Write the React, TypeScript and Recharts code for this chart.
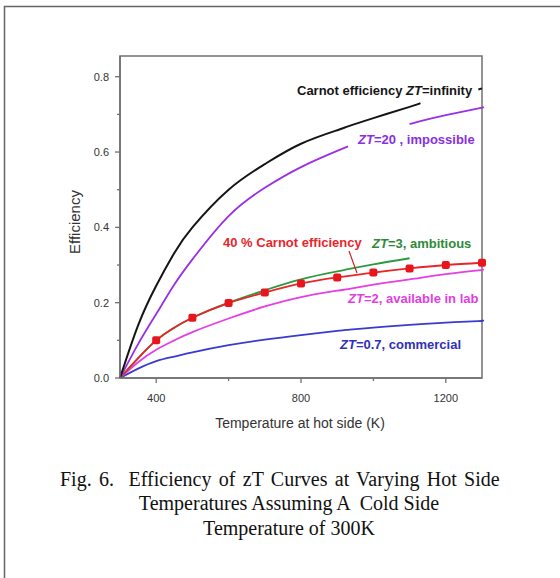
import React from 'react';
import { LineChart, Line, XAxis, YAxis, ReferenceArea } from 'recharts';

const temps = [300, 350, 400, 450, 500, 600, 700, 800, 900, 930, 1000, 1100, 1130, 1200, 1290, 1300];
const carnot = [0, 0.14, 0.245, 0.332, 0.4, 0.5, 0.568, 0.622, 0.658, 0.668, 0.69, 0.72, 0.73, null, 0.766, 0.769];
const zt20 = [0, 0.09, 0.17, 0.248, 0.315, 0.43, 0.505, 0.56, 0.603, 0.615, null, 0.674, 0.682, 0.698, 0.716, 0.718];
const zt3 = [0, 0.052, 0.1, 0.133, 0.16, 0.2, 0.233, 0.262, 0.283, 0.289, 0.302, 0.318, null, null, null, null];
const carnot40 = [0, null, 0.1, null, 0.16, 0.199, 0.227, 0.251, 0.267, null, 0.28, 0.291, null, 0.3, null, 0.306];
const zt2 = [0, 0.042, 0.075, 0.1, 0.122, 0.158, 0.19, 0.215, 0.232, 0.236, 0.248, 0.262, 0.266, 0.276, 0.286, 0.287];
const zt07 = [0, 0.025, 0.045, 0.057, 0.068, 0.087, 0.102, 0.114, 0.125, 0.128, 0.134, 0.141, 0.143, 0.147, 0.151, 0.153];

const xTicks = [400, 600, 800, 1000, 1200];
const xLabelled = [400, 800, 1200];
const yTicks = [0, 0.1, 0.2, 0.3, 0.4, 0.5, 0.6, 0.7, 0.8];
const yLabelled = [0, 0.2, 0.4, 0.6, 0.8];

const data = temps.map((T, i) => ({
  T,
  carnot: carnot[i],
  zt20: zt20[i],
  zt3: zt3[i],
  carnot40: carnot40[i],
  zt2: zt2[i],
  zt07: zt07[i],
}));

const AX = '#707070';
const SANS = '"Liberation Sans", Arial, sans-serif';
const SERIF = '"Liberation Serif", "Times New Roman", serif';

const XTick = (props: any) => {
  const { x, y, payload } = props;
  const major = xLabelled.includes(payload.value);
  return (
    <g>
      <line x1={x} y1={y} x2={x} y2={y + (major ? 5 : 3)} stroke={AX} strokeWidth={1.3} />
      {major && (
        <text x={x} y={y + 24} textAnchor="middle" fontSize={11} fontFamily={SANS} fill="#333">
          {payload.value}
        </text>
      )}
    </g>
  );
};

const YTick = (props: any) => {
  const { x, y, payload } = props;
  const major = yLabelled.some((v) => Math.abs(v - payload.value) < 1e-6);
  return (
    <g>
      <line x1={x - (major ? 5 : 3)} y1={y} x2={x} y2={y} stroke={AX} strokeWidth={1.3} />
      {major && (
        <text x={x - 11} y={y + 4} textAnchor="end" fontSize={11} fontFamily={SANS} fill="#333">
          {payload.value.toFixed(1)}
        </text>
      )}
    </g>
  );
};

const RedDot = (props: any) => {
  const { cx, cy, payload, index } = props;
  if (payload.carnot40 == null || payload.T < 400 || cx == null || cy == null) return <g key={`d${index}`} />;
  return <rect key={`d${index}`} x={cx - 4} y={cy - 4} width={8} height={8} rx={2} fill="#e8161c" />;
};

const App = () => {
  return (
    <div style={{ position: 'absolute', left: 0, top: 0, width: 560, height: 578, background: '#fff', overflow: 'hidden' }}>
      <LineChart
        width={560}
        height={578}
        data={data}
        margin={{ top: 56, right: 78, left: 80, bottom: 170 }}
      >
        <XAxis
          dataKey="T"
          type="number"
          domain={[300, 1300]}
          ticks={xTicks}
          tick={<XTick />}
          tickSize={0}
          tickMargin={0}
          tickLine={false}
          axisLine={{ stroke: AX, strokeWidth: 1.5 }}
          height={30}
          interval={0}
        />
        <YAxis
          type="number"
          domain={[0, 0.855]}
          ticks={yTicks}
          tick={<YTick />}
          tickSize={0}
          tickMargin={0}
          tickLine={false}
          axisLine={{ stroke: AX, strokeWidth: 1.5 }}
          width={40}
          interval={0}
          allowDataOverflow
        />
        <ReferenceArea x1={300} x2={1300} y1={0} y2={0.855} fill="none" stroke={AX} strokeWidth={1.5} ifOverflow="visible" />
        <Line type="natural" dataKey="zt07" stroke="#3a3ad0" strokeWidth={1.8} dot={false} isAnimationActive={false} />
        <Line type="natural" dataKey="zt2" stroke="#e63ee6" strokeWidth={1.8} dot={false} isAnimationActive={false} />
        <Line type="natural" dataKey="zt3" stroke="#2e9a3e" strokeWidth={1.8} dot={false} isAnimationActive={false} />
        <Line type="natural" dataKey="carnot40" stroke="#e8262a" strokeWidth={1.8} dot={<RedDot />} connectNulls isAnimationActive={false} />
        <Line type="natural" dataKey="zt20" stroke="#9a30e6" strokeWidth={1.8} dot={false} isAnimationActive={false} />
        <Line type="natural" dataKey="carnot" stroke="#151515" strokeWidth={2} dot={false} isAnimationActive={false} />
      </LineChart>
      <svg width={560} height={578} style={{ position: 'absolute', left: 0, top: 0, pointerEvents: 'none' }}>
        <path d="M4.5 578 L4.5 6.5 L560 6.5" fill="none" stroke="#666" strokeWidth={1.5} />
        <g fontFamily={SANS} fontWeight="bold" fontSize={13}>
          <text x={297} y={95} fill="#151515">Carnot efficiency <tspan fontStyle="italic">ZT</tspan>=infinity</text>
          <text x={358} y={144} fill="#8a2ee0"><tspan fontStyle="italic">ZT</tspan>=20 , impossible</text>
          <text x={223} y={247} fill="#e8262a">40 % Carnot efficiency</text>
          <text x={372} y={248} fill="#2e8a3a"><tspan fontStyle="italic">ZT</tspan>=3, ambitious</text>
          <text x={348} y={303} fill="#e03ee0"><tspan fontStyle="italic">ZT</tspan>=2, available in lab</text>
          <text x={340} y={349} fill="#3030b8"><tspan fontStyle="italic">ZT</tspan>=0.7, commercial</text>
        </g>
        <line x1={349} y1={251} x2={357} y2={273} stroke="#d02020" strokeWidth={1.2} />
        <text x={75} y={222} transform="rotate(-90 75 222)" dy={5} textAnchor="middle" fontFamily={SANS} fontSize={15} fill="#333">Efficiency</text>
        <text x={300} y={428} textAnchor="middle" fontFamily={SANS} fontSize={14} fill="#333">Temperature at hot side (K)</text>
        <g fontFamily={SERIF} fontSize={20} fill="#111">
          <text x={60} y={486} wordSpacing={2.3} style={{ whiteSpace: 'pre' }}>{'Fig. 6.  Efficiency of zT Curves at Varying Hot Side'}</text>
          <text x={289} y={510} textAnchor="middle" style={{ whiteSpace: 'pre' }}>{'Temperatures Assuming A  Cold Side'}</text>
          <text x={289} y={535} textAnchor="middle" style={{ whiteSpace: 'pre' }}>{'Temperature of 300K'}</text>
        </g>
      </svg>
    </div>
  );
};

export default App;
